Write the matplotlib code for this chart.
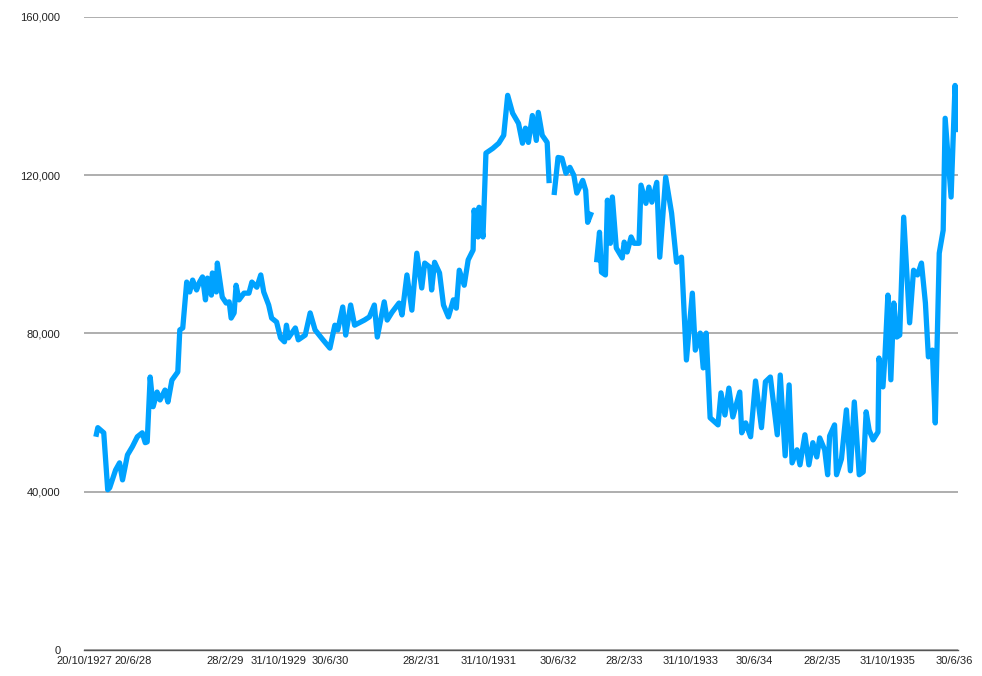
import numpy as np
import matplotlib.pyplot as plt
from matplotlib.ticker import FuncFormatter

pos = [0.5, 1.5, 4.5, 6.5, 7.5, 10.5, 12.5, 14, 16.5, 19, 21.5, 24, 25.5, 26.5, 28, 29.5,
       31.5, 33, 35.5, 37, 39, 42, 43, 44.5, 46.5, 48, 49.5, 51.5, 53, 54.5, 56, 57,
       59, 59.5, 61.5, 62, 64.5, 66.5, 68, 69, 70.5, 71.5, 73, 75.5, 78, 79.5, 82, 84,
       85.5, 88, 89.5, 92, 94, 96, 97,
       98, 101.5, 103, 106.5, 109, 111.5, 115.5, 119, 121.5, 123, 125.5, 127, 129.5, 131.5,
       136.5, 139, 141.5, 143, 146.5, 148, 150.5, 154, 155.5, 158, 160.5, 163, 165.5, 167,
       169.5, 170.5, 172, 174.5, 176.5, 179, 181.5, 183, 184.5, 187, 189, 191.5,
       192, 194, 194.5, 196.5, 198, 201.5, 204.5, 207, 209, 211.5, 214.5, 216.5, 218, 219.5,
       221.5, 223.5, 224.5, 226.5, 229, 230,
       231,
       232.5, 234.5, 236.5, 238.5, 240.5, 242.5, 244, 247, 248.5, 249.5, 251.5,
       252.5,
       254, 255.5, 256.5, 258.5, 259.5, 261, 262, 264, 267, 268, 269.5, 271.5, 273, 275.5,
       276.5, 279, 280.5, 282, 284.5, 286, 289, 292, 294.5, 297, 299.5, 302.5, 304, 306.5,
       308, 309.5, 311.5, 315.5, 317, 319, 321, 323, 326.5, 327.5, 329.5, 332, 334.5, 337.5,
       339.5, 342, 345.5, 347, 349.5, 351.5, 353, 355.5, 357, 359.5, 361.5, 363.5, 365.5, 367,
       369.5, 371, 372, 374.5, 375.5, 378, 380.5, 382.5, 384.5, 387, 389, 390.5, 392, 394,
       396.5, 397, 399, 400, 401.5, 403, 404.5, 406, 407.5, 409.5, 412.5, 414.5, 416.5, 418.5,
       420.5, 422, 424, 425.5, 427.5, 429.5, 430.5, 433.5, 435.5, 437]

# values in thousands, nan = missing week
vals_k = [53.9, 56.2, 54.9, 40.5, 41.0, 45.5, 47.3, 43.0, 49.3, 51.4, 53.9, 54.9, 52.4, 52.6, 69.0, 61.5,
          65.2, 63.2, 65.7, 62.7, 68.2, 70.3, 80.9, 81.4, 93.0, 90.5, 93.5, 91.0, 93.0, 94.3, 88.5, 94.0,
          89.7, 95.3, 90.5, 97.8, 89.2, 87.7, 88.0, 83.9, 85.2, 92.2, 88.5, 90.2, 90.2, 93.0, 91.7, 94.8,
          90.5, 87.2, 83.9, 82.9, 78.9, 77.9, 82.1,
          78.9, 81.4, 78.4, 79.6, 85.2, 80.9, 78.4, 76.3, 82.1, 80.9, 86.7, 79.6, 87.2, 82.1,
          83.4, 84.2, 87.2, 79.1, 88.0, 83.4, 85.4, 87.7, 84.7, 94.8, 85.9, 100.3, 91.5, 97.8,
          96.8, 91.0, 98.0, 95.3, 87.2, 84.2, 88.5, 86.4, 96.0, 92.2, 98.6, 101.1,
          111.2, 104.4, 111.9, 104.4, 125.6, 126.8, 128.1, 130.1, 140.2, 135.7, 133.1, 128.1, 131.9, 128.3,
          135.1, 128.8, 135.9, 130.1, 128.3, 118.0,
          np.nan,
          115.0, 124.5, 124.3, 120.5, 122.0, 120.0, 115.5, 118.7, 116.2, 108.1, 110.7,
          np.nan,
          98.0, 105.6, 95.5, 94.8, 113.7, 102.8, 114.5, 101.6, 99.1, 103.1, 100.6, 104.4, 102.8, 102.8,
          117.5, 112.9, 117.0, 113.2, 118.2, 99.3, 119.5, 110.4, 98.0, 99.3, 73.3, 90.2, 75.8, 80.1,
          71.3, 80.1, 58.7, 56.9, 65.0, 59.4, 66.2, 58.9, 65.2, 54.9, 57.4, 53.9, 68.0, 56.2,
          67.8, 69.0, 54.4, 69.5, 49.1, 67.0, 47.3, 50.6, 46.8, 54.4, 46.8, 52.4, 48.8, 53.6,
          50.6, 44.3, 54.1, 56.9, 44.3, 48.3, 60.7, 45.3, 62.7, 44.3, 45.0, 60.2, 55.6, 53.1,
          55.1, 73.8, 66.5, 74.1, 89.7, 68.3, 87.7, 79.1, 79.6, 109.4, 82.7, 96.0, 94.8, 97.8,
          87.7, 74.1, 75.8, 57.4, 100.3, 106.1, 134.4, 114.5, 142.7, 130.9]

tick_labels = ["20/10/1927", "20/6/28", "28/2/29", "31/10/1929", "30/6/30", "28/2/31",
               "31/10/1931", "30/6/32", "28/2/33", "31/10/1933", "30/6/34", "28/2/35",
               "31/10/1935", "30/6/36"]
tick_pos = [-5.5, 19.5, 66, 93, 119, 165, 199.5, 234.5, 268, 301.5, 334, 368, 401.5, 435]

y_ticks = [0, 40000, 80000, 120000, 160000]

values = np.array(vals_k) * 1000

plt.rcParams['font.family'] = ['Liberation Sans', 'DejaVu Sans']

fig = plt.figure(figsize=(9.82, 6.76), dpi=100)
ax = fig.add_axes([84/982, 26/676, 874/982, 633/676])

ax.plot(pos, values, color="#00a2ff", lw=3.8, solid_joinstyle="round", solid_capstyle="butt")

ax.set_xlim(0, 437)
ax.set_ylim(0, 160000)
ax.set_yticks(y_ticks)
ax.yaxis.set_major_formatter(FuncFormatter(lambda v, p: "{:,}".format(int(v))))
ax.set_xticks(tick_pos)
ax.set_xticklabels(tick_labels)
ax.tick_params(length=0, labelsize=8, colors="#222222")
ax.tick_params(axis="x", pad=4)
ax.tick_params(axis="y", pad=17)

ax.grid(axis="y", color="#a8a8a8", lw=1.3)
ax.set_axisbelow(True)
for s in ["top", "right", "left"]:
    ax.spines[s].set_visible(False)
ax.spines["bottom"].set_color("#555555")
ax.spines["bottom"].set_linewidth(1.0)

fig.savefig("out.png", dpi=100)
